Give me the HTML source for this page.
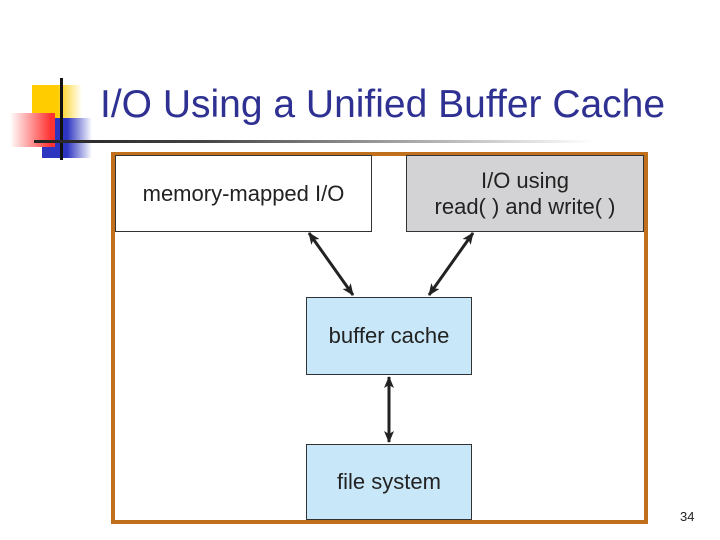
<!DOCTYPE html>
<html><head><style>
body{margin:0;width:720px;height:540px;background:#fff;position:relative;overflow:hidden;font-family:"Liberation Sans",sans-serif}
div{position:absolute;box-sizing:border-box}
.t{display:flex;align-items:center;justify-content:center;text-align:center;color:#222;font-size:22px;line-height:26px;border:1.5px solid #333}
</style></head><body>
<div style="left:32px;top:85px;width:50px;height:33px;background:linear-gradient(90deg,#fc0 50%,#fff)"></div>
<div style="left:42px;top:118px;width:50px;height:40px;background:linear-gradient(90deg,#2d35c0 50%,#fff)"></div>
<div style="left:10px;top:113px;width:45px;height:34px;background:linear-gradient(90deg,#fff,#f33 90%)"></div>
<div style="left:60px;top:78px;width:3px;height:82px;background:#111"></div>
<div style="left:34px;top:140px;width:560px;height:3px;background:linear-gradient(90deg,#222,#444 30%,#fff)"></div>
<div style="left:100px;top:83px;font-size:39px;color:#2e3192;white-space:nowrap">I/O Using a Unified Buffer Cache</div>
<div style="left:111px;top:152px;width:537px;height:372px;border:4px solid #c0701c"></div>
<div class="t" style="left:115px;top:155px;width:257px;height:77px;background:#fff">memory-mapped I/O</div>
<div class="t" style="left:406px;top:155px;width:238px;height:77px;background:#d3d3d5">I/O using<br>read( ) and write( )</div>
<div class="t" style="left:306px;top:297px;width:166px;height:78px;background:#c8e7f8">buffer cache</div>
<div class="t" style="left:306px;top:444px;width:166px;height:76px;background:#c8e7f8">file system</div>
<svg style="position:absolute;left:0;top:0" width="720" height="540">
<defs><marker id="a" markerWidth="12" markerHeight="10" refX="11" refY="5" orient="auto-start-reverse" markerUnits="userSpaceOnUse"><path d="M0,0L12,5L0,10L3,5z" fill="#222"/></marker></defs>
<g stroke="#222" stroke-width="3" marker-start="url(#a)" marker-end="url(#a)">
<line x1="309" y1="233" x2="353" y2="295"/>
<line x1="473" y1="233" x2="429" y2="295"/>
<line x1="389" y1="377" x2="389" y2="442"/>
</g></svg>
<div style="left:680px;top:509px;font-size:13px;color:#222">34</div>
</body></html>
